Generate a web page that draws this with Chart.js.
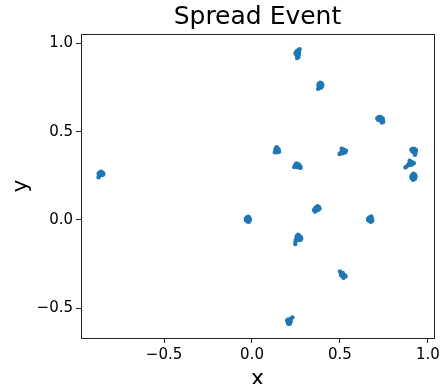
<!DOCTYPE html>
<html>
<head>
<meta charset="utf-8">
<script src="https://cdn.jsdelivr.net/npm/chart.js@4"></script>
<style>
  html, body { margin: 0; padding: 0; background: #fff; }
  #wrap { width: 443px; height: 384px; }
</style>
</head>
<body>
<div id="wrap"><canvas id="spread"></canvas></div>
<script>
// Point clusters, [x, y]
const clusterA = [[-0.872,0.262],[-0.866,0.270],[-0.858,0.274],[-0.850,0.268],[-0.845,0.262],[-0.853,0.258],[-0.862,0.255],[-0.869,0.250],[-0.872,0.242],[-0.858,0.264],[-0.848,0.256],[-0.864,0.262]];
const clusterB = [[0.250,0.950],[0.256,0.958],[0.264,0.962],[0.270,0.968],[0.268,0.952],[0.262,0.944],[0.252,0.938],[0.258,0.930],[0.264,0.924],[0.256,0.918],[0.248,0.944],[0.266,0.936]];
const clusterC = [[0.380,0.772],[0.388,0.778],[0.396,0.774],[0.400,0.766],[0.394,0.758],[0.386,0.760],[0.378,0.764],[0.392,0.750],[0.384,0.768],[0.376,0.744],[0.398,0.758]];
const clusterD = [[0.712,0.576],[0.720,0.582],[0.728,0.584],[0.736,0.580],[0.744,0.574],[0.740,0.564],[0.732,0.570],[0.722,0.566],[0.716,0.570],[0.746,0.556],[0.738,0.552],[0.728,0.576]];
const clusterE = [[0.134,0.404],[0.140,0.412],[0.146,0.406],[0.152,0.398],[0.148,0.388],[0.140,0.384],[0.132,0.390],[0.136,0.396],[0.144,0.396],[0.154,0.386],[0.130,0.384]];
const clusterF = [[0.510,0.404],[0.518,0.400],[0.526,0.396],[0.534,0.392],[0.530,0.384],[0.520,0.386],[0.512,0.390],[0.504,0.380],[0.498,0.374],[0.516,0.378],[0.524,0.390]];
const clusterG = [[0.246,0.312],[0.252,0.320],[0.260,0.318],[0.268,0.312],[0.274,0.304],[0.266,0.298],[0.256,0.300],[0.248,0.304],[0.262,0.308],[0.240,0.300],[0.276,0.296]];
const clusterH = [[0.906,0.398],[0.914,0.404],[0.924,0.402],[0.932,0.396],[0.930,0.386],[0.922,0.384],[0.912,0.388],[0.918,0.394],[0.928,0.376],[0.926,0.370]];
const clusterI = [[0.880,0.304],[0.888,0.312],[0.896,0.320],[0.904,0.330],[0.912,0.326],[0.920,0.322],[0.910,0.316],[0.900,0.312],[0.892,0.318],[0.872,0.298],[0.896,0.336]];
const clusterJ = [[0.910,0.254],[0.918,0.262],[0.926,0.256],[0.930,0.246],[0.926,0.234],[0.916,0.228],[0.908,0.236],[0.906,0.246],[0.918,0.244],[0.922,0.252]];
const clusterK = [[-0.034,0.008],[-0.028,0.016],[-0.020,0.018],[-0.014,0.010],[-0.012,0.000],[-0.018,-0.010],[-0.026,-0.008],[-0.034,-0.002],[-0.024,0.004],[-0.016,0.004]];
const clusterL = [[0.352,0.056],[0.358,0.064],[0.364,0.072],[0.372,0.078],[0.380,0.074],[0.384,0.064],[0.376,0.058],[0.366,0.054],[0.358,0.048],[0.370,0.066]];
const clusterM = [[0.660,0.006],[0.666,0.014],[0.674,0.012],[0.682,0.006],[0.684,-0.004],[0.676,-0.010],[0.668,-0.006],[0.670,0.002],[0.662,-0.002],[0.678,0.020]];
const clusterN = [[0.254,-0.092],[0.262,-0.084],[0.270,-0.090],[0.278,-0.098],[0.280,-0.108],[0.272,-0.114],[0.262,-0.112],[0.256,-0.104],[0.250,-0.110],[0.266,-0.100],[0.246,-0.136],[0.248,-0.120]];
const clusterO = [[0.500,-0.292],[0.506,-0.300],[0.512,-0.306],[0.520,-0.310],[0.528,-0.314],[0.532,-0.320],[0.522,-0.322],[0.512,-0.318],[0.506,-0.312],[0.520,-0.328],[0.516,-0.300]];
const clusterP = [[0.200,-0.570],[0.206,-0.564],[0.214,-0.566],[0.222,-0.560],[0.230,-0.552],[0.220,-0.574],[0.212,-0.580],[0.204,-0.584],[0.210,-0.590],[0.216,-0.586]];

const xTicks = [-0.5, 0.0, 0.5, 1.0];
const yTicks = [-0.5, 0.0, 0.5, 1.0];

const allClusters = [clusterA, clusterB, clusterC, clusterD, clusterE, clusterF, clusterG, clusterH,
                     clusterI, clusterJ, clusterK, clusterL, clusterM, clusterN, clusterO, clusterP];
const points = [];
allClusters.forEach(c => c.forEach(p => points.push({ x: p[0], y: p[1] })));

const FONT = "'DejaVu Sans', sans-serif";

function fmt(v) {
    return v.toFixed(1).replace('-', '\u2212');
}

// box around the plot area (matplotlib style spines)
const frame = {
    id: 'frame',
    afterDraw(chart) {
        const a = chart.chartArea;
        const ctx = chart.ctx;
        ctx.save();
        ctx.strokeStyle = '#222';
        ctx.lineWidth = 1;
        ctx.strokeRect(Math.round(a.left) + 0.5, Math.round(a.top) + 0.5,
                       Math.round(a.right - a.left), Math.round(a.bottom - a.top));
        ctx.restore();
    }
};

new Chart(document.getElementById('spread'), {
    type: 'scatter',
    data: {
        datasets: [{
            data: points,
            backgroundColor: '#1f77b4',
            borderWidth: 0,
            pointRadius: 2.2,
            pointHoverRadius: 2.2
        }]
    },
    options: {
        responsive: true,
        maintainAspectRatio: false,
        animation: false,
        layout: { padding: { left: 0, right: 7, top: 0, bottom: 0 } },
        plugins: {
            legend: { display: false },
            tooltip: { enabled: false },
            title: {
                display: true,
                fullSize: false,
                text: 'Spread Event',
                color: '#000',
                font: { family: FONT, size: 25, weight: 'normal' },
                padding: { top: 2, bottom: 2 }
            }
        },
        scales: {
            x: {
                min: -0.972,
                max: 1.034,
                afterBuildTicks: s => { s.ticks = xTicks.map(v => ({ value: v })); },
                afterFit: s => { s.height = 46; },
                grid: { drawOnChartArea: false, drawTicks: true, tickLength: 5, color: '#222' },
                border: { display: true, color: '#222' },
                ticks: {
                    color: '#000',
                    font: { family: FONT, size: 15 },
                    padding: 3,
                    maxRotation: 0,
                    callback: v => fmt(v)
                },
                title: {
                    display: true,
                    text: 'x',
                    color: '#000',
                    font: { family: FONT, size: 22 },
                    padding: { top: 0, bottom: -8 }
                }
            },
            y: {
                min: -0.669,
                max: 1.054,
                afterBuildTicks: s => { s.ticks = yTicks.map(v => ({ value: v })); },
                afterFit: s => { s.width = 81; },
                grid: { drawOnChartArea: false, drawTicks: true, tickLength: 5, color: '#222' },
                border: { display: true, color: '#222' },
                ticks: {
                    color: '#000',
                    font: { family: FONT, size: 15 },
                    padding: 3,
                    callback: v => fmt(v)
                },
                title: {
                    display: true,
                    text: 'y',
                    color: '#000',
                    font: { family: FONT, size: 22 },
                    padding: { top: 8, bottom: 0 }
                }
            }
        }
    },
    plugins: [frame]
});
</script>
</body>
</html>
